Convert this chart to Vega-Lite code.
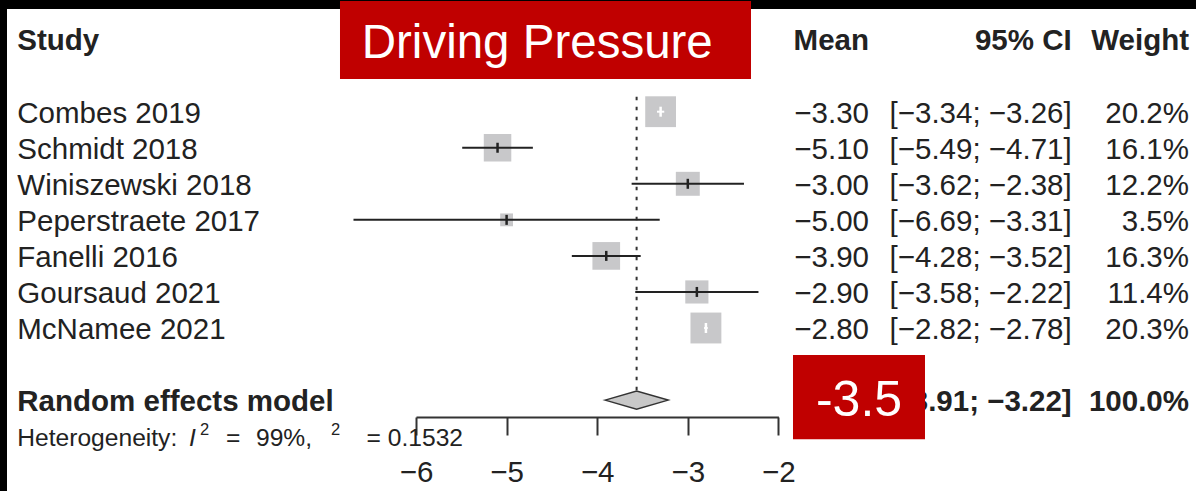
{
  "$schema": "https://vega.github.io/schema/vega-lite/v6.json",
  "width": 1189,
  "height": 482,
  "autosize": {"type": "none"},
  "padding": {"left": 7, "top": 9, "right": 0, "bottom": 0},
  "background": "#000000",
  "view": {"fill": "#ffffff", "stroke": null},
  "config": {
    "text": {"font": "Liberation Sans", "color": "#222222"},
    "axis": {"labelFont": "Liberation Sans"}
  },
  "datasets": {
    "studies": [
      {"study": "Combes 2019", "order": 1, "mean": -3.30, "lower": -3.34, "upper": -3.26, "ci": "[−3.34; −3.26]", "weight": 0.202},
      {"study": "Schmidt 2018", "order": 2, "mean": -5.10, "lower": -5.49, "upper": -4.71, "ci": "[−5.49; −4.71]", "weight": 0.161},
      {"study": "Winiszewski 2018", "order": 3, "mean": -3.00, "lower": -3.62, "upper": -2.38, "ci": "[−3.62; −2.38]", "weight": 0.122},
      {"study": "Peperstraete 2017", "order": 4, "mean": -5.00, "lower": -6.69, "upper": -3.31, "ci": "[−6.69; −3.31]", "weight": 0.035},
      {"study": "Fanelli 2016", "order": 5, "mean": -3.90, "lower": -4.28, "upper": -3.52, "ci": "[−4.28; −3.52]", "weight": 0.163},
      {"study": "Goursaud 2021", "order": 6, "mean": -2.90, "lower": -3.58, "upper": -2.22, "ci": "[−3.58; −2.22]", "weight": 0.114},
      {"study": "McNamee 2021", "order": 7, "mean": -2.80, "lower": -2.82, "upper": -2.78, "ci": "[−2.82; −2.78]", "weight": 0.203}
    ],
    "pooled": [
      {"label": "Random effects model", "mean": -3.565, "lower": -3.91, "upper": -3.22, "ci": "[−3.91; −3.22]", "weight": 1.0}
    ]
  },
  "layer": [
    {
      "data": {"name": "pooled"},
      "mark": {"type": "rule", "stroke": "#333333", "strokeWidth": 2, "strokeDash": [3.5, 6.5]},
      "encoding": {
        "x": {
          "field": "mean", "type": "quantitative",
          "scale": {"domain": [-6, -2], "range": [409, 771.4], "nice": false, "zero": false},
          "axis": {
            "values": [-6, -5, -4, -3, -2], "format": "d", "offset": -74,
            "tickSize": 18, "tickWidth": 2, "tickColor": "#333333",
            "domainColor": "#333333", "domainWidth": 2,
            "labelFontSize": 29.5, "labelColor": "#222222", "labelPadding": 23,
            "labelFlush": false, "labelOverlap": false, "labelBound": false,
            "grid": false, "title": null
          }
        },
        "y": {"datum": 0.584, "type": "quantitative", "scale": {"domain": [-1, 9], "range": [30.6, 391.1], "nice": false, "zero": false}, "axis": null},
        "y2": {"datum": 8.747}
      }
    },
    {
      "data": {"name": "studies"},
      "mark": {"type": "square", "filled": true, "color": "#c8c8ca", "opacity": 1},
      "encoding": {
        "x": {"field": "mean", "type": "quantitative", "title": null},
        "y": {"field": "order", "type": "quantitative", "axis": null},
        "size": {"field": "weight", "type": "quantitative", "scale": {"domain": [0, 0.2], "range": [0, 940]}, "legend": null}
      }
    },
    {
      "data": {"name": "studies"},
      "mark": {"type": "rule", "strokeWidth": 2},
      "encoding": {
        "x": {"field": "lower", "type": "quantitative", "title": null},
        "x2": {"field": "upper"},
        "y": {"field": "order", "type": "quantitative", "axis": null},
        "color": {"condition": {"test": "datum.upper - datum.lower < 0.1", "value": "#ffffff"}, "value": "#222222"}
      }
    },
    {
      "data": {"name": "studies"},
      "mark": {"type": "tick", "orient": "vertical", "size": 10, "thickness": 2.5, "opacity": 1},
      "encoding": {
        "x": {"field": "mean", "type": "quantitative", "title": null},
        "y": {"field": "order", "type": "quantitative", "axis": null},
        "color": {"condition": {"test": "datum.upper - datum.lower < 0.1", "value": "#ffffff"}, "value": "#222222"}
      }
    },
    {
      "data": {"name": "pooled"},
      "mark": {"type": "point", "shape": "M-1,0L0,-0.2857L1,0L0,0.2857Z", "size": 3969, "filled": true, "fill": "#c8c8c8", "stroke": "#333333", "strokeWidth": 1.5, "opacity": 1},
      "encoding": {
        "x": {"field": "mean", "type": "quantitative", "title": null},
        "y": {"datum": 9, "type": "quantitative", "axis": null}
      }
    },
    {
      "data": {"name": "studies"},
      "mark": {"type": "text", "align": "left", "baseline": "middle", "fontSize": 29.5, "dy": 2},
      "encoding": {
        "x": {"datum": -10.4007, "type": "quantitative"},
        "y": {"field": "order", "type": "quantitative", "axis": null},
        "text": {"field": "study"}
      }
    },
    {
      "data": {"name": "studies"},
      "mark": {"type": "text", "align": "right", "baseline": "middle", "fontSize": 29.5, "dy": 2},
      "encoding": {
        "x": {"datum": -1.0, "type": "quantitative"},
        "y": {"field": "order", "type": "quantitative", "axis": null},
        "text": {"field": "mean", "format": ".2f"}
      }
    },
    {
      "data": {"name": "studies"},
      "mark": {"type": "text", "align": "right", "baseline": "middle", "fontSize": 29.5, "dy": 2},
      "encoding": {
        "x": {"datum": 1.237, "type": "quantitative"},
        "y": {"field": "order", "type": "quantitative", "axis": null},
        "text": {"field": "ci"}
      }
    },
    {
      "data": {"name": "studies"},
      "mark": {"type": "text", "align": "right", "baseline": "middle", "fontSize": 29.5, "dy": 2},
      "encoding": {
        "x": {"datum": 2.532, "type": "quantitative"},
        "y": {"field": "order", "type": "quantitative", "axis": null},
        "text": {"field": "weight", "format": ".1%"}
      }
    },
    {
      "data": {"values": [{"text": "Study"}]},
      "mark": {"type": "text", "align": "left", "baseline": "middle", "fontSize": 29.5, "fontWeight": "bold", "dy": 1},
      "encoding": {
        "x": {"datum": -10.4007, "type": "quantitative"},
        "y": {"datum": -1, "type": "quantitative", "axis": null},
        "text": {"field": "text"}
      }
    },
    {
      "data": {"values": [{"text": "Mean"}]},
      "mark": {"type": "text", "align": "right", "baseline": "middle", "fontSize": 29.5, "fontWeight": "bold", "dy": 1},
      "encoding": {
        "x": {"datum": -1.0, "type": "quantitative"},
        "y": {"datum": -1, "type": "quantitative", "axis": null},
        "text": {"field": "text"}
      }
    },
    {
      "data": {"values": [{"text": "95% CI"}]},
      "mark": {"type": "text", "align": "right", "baseline": "middle", "fontSize": 29.5, "fontWeight": "bold", "dy": 1},
      "encoding": {
        "x": {"datum": 1.237, "type": "quantitative"},
        "y": {"datum": -1, "type": "quantitative", "axis": null},
        "text": {"field": "text"}
      }
    },
    {
      "data": {"values": [{"text": "Weight"}]},
      "mark": {"type": "text", "align": "right", "baseline": "middle", "fontSize": 29.5, "fontWeight": "bold", "dy": 1},
      "encoding": {
        "x": {"datum": 2.532, "type": "quantitative"},
        "y": {"datum": -1, "type": "quantitative", "axis": null},
        "text": {"field": "text"}
      }
    },
    {
      "data": {"name": "pooled"},
      "mark": {"type": "text", "align": "left", "baseline": "middle", "fontSize": 29.5, "fontWeight": "bold", "dy": 2},
      "encoding": {
        "x": {"datum": -10.4007, "type": "quantitative"},
        "y": {"datum": 9, "type": "quantitative", "axis": null},
        "text": {"field": "label"}
      }
    },
    {
      "data": {"name": "pooled"},
      "mark": {"type": "text", "align": "right", "baseline": "middle", "fontSize": 29.5, "fontWeight": "bold", "dy": 2},
      "encoding": {
        "x": {"datum": -1.0, "type": "quantitative"},
        "y": {"datum": 9, "type": "quantitative", "axis": null},
        "text": {"field": "mean", "format": ".2f"}
      }
    },
    {
      "data": {"name": "pooled"},
      "mark": {"type": "text", "align": "right", "baseline": "middle", "fontSize": 29.5, "fontWeight": "bold", "dy": 2},
      "encoding": {
        "x": {"datum": 1.237, "type": "quantitative"},
        "y": {"datum": 9, "type": "quantitative", "axis": null},
        "text": {"field": "ci"}
      }
    },
    {
      "data": {"name": "pooled"},
      "mark": {"type": "text", "align": "right", "baseline": "middle", "fontSize": 29.5, "fontWeight": "bold", "dy": 2},
      "encoding": {
        "x": {"datum": 2.532, "type": "quantitative"},
        "y": {"datum": 9, "type": "quantitative", "axis": null},
        "text": {"field": "weight", "format": ".1%"}
      }
    },
    {
      "data": {"values": [{"text": "Heterogeneity:"}]},
      "mark": {"type": "text", "align": "left", "baseline": "middle", "fontSize": 24.6},
      "encoding": {
        "x": {"datum": -10.4007, "type": "quantitative"},
        "y": {"datum": 10.083, "type": "quantitative", "axis": null},
        "text": {"field": "text"}
      }
    },
    {
      "data": {"values": [{"text": "I"}]},
      "mark": {"type": "text", "align": "left", "baseline": "middle", "fontSize": 24.6, "fontStyle": "italic"},
      "encoding": {
        "x": {"datum": -8.5055, "type": "quantitative"},
        "y": {"datum": 10.083, "type": "quantitative", "axis": null},
        "text": {"field": "text"}
      }
    },
    {
      "data": {"values": [{"text": "2"}]},
      "mark": {"type": "text", "align": "left", "baseline": "middle", "fontSize": 16.5, "dy": -9},
      "encoding": {
        "x": {"datum": -8.3841, "type": "quantitative"},
        "y": {"datum": 10.083, "type": "quantitative", "axis": null},
        "text": {"field": "text"}
      }
    },
    {
      "data": {"values": [{"text": "="}]},
      "mark": {"type": "text", "align": "left", "baseline": "middle", "fontSize": 24.6},
      "encoding": {
        "x": {"datum": -8.0971, "type": "quantitative"},
        "y": {"datum": 10.083, "type": "quantitative", "axis": null},
        "text": {"field": "text"}
      }
    },
    {
      "data": {"values": [{"text": "99%,"}]},
      "mark": {"type": "text", "align": "left", "baseline": "middle", "fontSize": 24.6},
      "encoding": {
        "x": {"datum": -7.766, "type": "quantitative"},
        "y": {"datum": 10.083, "type": "quantitative", "axis": null},
        "text": {"field": "text"}
      }
    },
    {
      "data": {"values": [{"text": "2"}]},
      "mark": {"type": "text", "align": "left", "baseline": "middle", "fontSize": 16.5, "dy": -9},
      "encoding": {
        "x": {"datum": -6.9382, "type": "quantitative"},
        "y": {"datum": 10.083, "type": "quantitative", "axis": null},
        "text": {"field": "text"}
      }
    },
    {
      "data": {"values": [{"text": "= 0.1532"}]},
      "mark": {"type": "text", "align": "right", "baseline": "middle", "fontSize": 24.6},
      "encoding": {
        "x": {"datum": -5.4812, "type": "quantitative"},
        "y": {"datum": 10.083, "type": "quantitative", "axis": null},
        "text": {"field": "text"}
      }
    },
    {
      "data": {"values": [{"text": "Driving Pressure"}]},
      "mark": {"type": "rect", "color": "#c00000", "opacity": 1},
      "encoding": {
        "x": {"datum": -6.8389, "type": "quantitative"},
        "x2": {"datum": -2.3024},
        "y": {"datum": -2.0707, "type": "quantitative", "axis": null},
        "y2": {"datum": 0.0929}
      }
    },
    {
      "data": {"values": [{"text": "Driving Pressure"}]},
      "mark": {"type": "text", "align": "left", "baseline": "alphabetic", "fontSize": 47.5, "color": "#ffffff"},
      "encoding": {
        "x": {"datum": -6.5993, "type": "quantitative"},
        "y": {"datum": -0.4813, "type": "quantitative", "axis": null},
        "text": {"field": "text"}
      }
    },
    {
      "data": {"values": [{"text": "-3.5"}]},
      "mark": {"type": "rect", "color": "#c00000", "opacity": 1},
      "encoding": {
        "x": {"datum": -1.8389, "type": "quantitative"},
        "x2": {"datum": -0.3819},
        "y": {"datum": 7.749, "type": "quantitative", "axis": null},
        "y2": {"datum": 10.088}
      }
    },
    {
      "data": {"values": [{"text": "-3.5"}]},
      "mark": {"type": "text", "align": "center", "baseline": "alphabetic", "fontSize": 50, "color": "#ffffff"},
      "encoding": {
        "x": {"datum": -1.1104, "type": "quantitative"},
        "y": {"datum": 9.441, "type": "quantitative", "axis": null},
        "text": {"field": "text"}
      }
    }
  ]
}
